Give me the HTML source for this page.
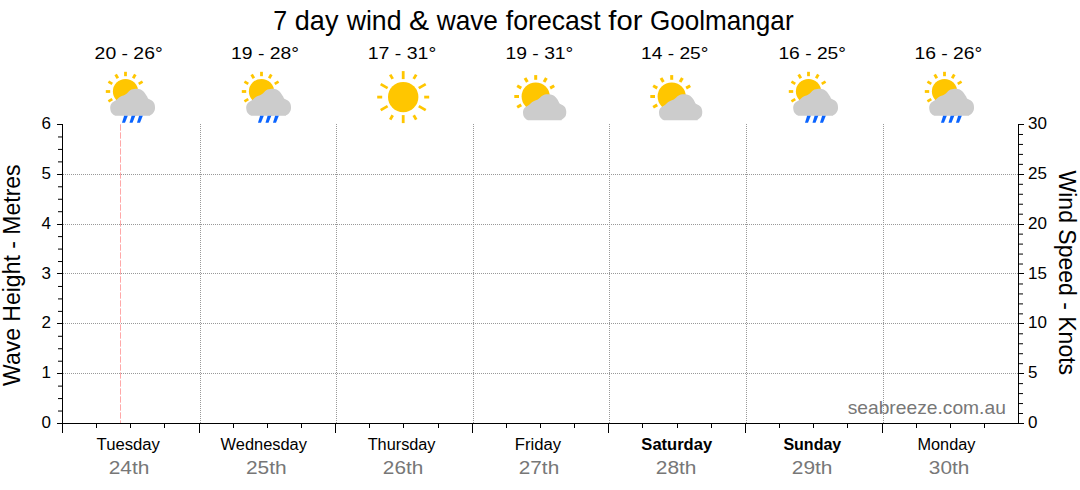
<!DOCTYPE html><html><head><meta charset="utf-8"><style>html,body{margin:0;padding:0;background:#fff;width:1080px;height:490px;overflow:hidden}svg{display:block}text{font-family:"Liberation Sans", sans-serif}</style></head><body>
<svg width="1080" height="490" viewBox="0 0 1080 490">
<rect width="1080" height="490" fill="#fff"/>
<line x1="63" y1="174.5" x2="1018" y2="174.5" stroke="#999" stroke-width="1" stroke-dasharray="1,1"/>
<line x1="63" y1="224.5" x2="1018" y2="224.5" stroke="#999" stroke-width="1" stroke-dasharray="1,1"/>
<line x1="63" y1="273.5" x2="1018" y2="273.5" stroke="#999" stroke-width="1" stroke-dasharray="1,1"/>
<line x1="63" y1="323.5" x2="1018" y2="323.5" stroke="#999" stroke-width="1" stroke-dasharray="1,1"/>
<line x1="63" y1="373.5" x2="1018" y2="373.5" stroke="#999" stroke-width="1" stroke-dasharray="1,1"/>
<line x1="200.5" y1="124" x2="200.5" y2="423" stroke="#999" stroke-width="1" stroke-dasharray="1,1"/>
<line x1="336.5" y1="124" x2="336.5" y2="423" stroke="#999" stroke-width="1" stroke-dasharray="1,1"/>
<line x1="473.5" y1="124" x2="473.5" y2="423" stroke="#999" stroke-width="1" stroke-dasharray="1,1"/>
<line x1="609.5" y1="124" x2="609.5" y2="423" stroke="#999" stroke-width="1" stroke-dasharray="1,1"/>
<line x1="746.5" y1="124" x2="746.5" y2="423" stroke="#999" stroke-width="1" stroke-dasharray="1,1"/>
<line x1="883.5" y1="124" x2="883.5" y2="423" stroke="#999" stroke-width="1" stroke-dasharray="1,1"/>
<line x1="120.5" y1="124.3" x2="120.5" y2="423" stroke="#ffa8a8" stroke-width="1" stroke-dasharray="6.4,1.6"/>
<g shape-rendering="crispEdges" stroke="#000" stroke-width="1">
<line x1="62.5" y1="124" x2="62.5" y2="433"/>
<line x1="1018.5" y1="124" x2="1018.5" y2="424"/>
<line x1="57" y1="423.5" x2="1024" y2="423.5"/>
<line x1="57" y1="423.5" x2="62" y2="423.5"/>
<line x1="57" y1="373.5" x2="62" y2="373.5"/>
<line x1="57" y1="323.5" x2="62" y2="323.5"/>
<line x1="57" y1="273.5" x2="62" y2="273.5"/>
<line x1="57" y1="224.5" x2="62" y2="224.5"/>
<line x1="57" y1="174.5" x2="62" y2="174.5"/>
<line x1="57" y1="124.5" x2="62" y2="124.5"/>
</g>
<g stroke="#000" stroke-width="1">
<line x1="58" y1="411.04" x2="62" y2="411.04"/>
<line x1="58" y1="398.58" x2="62" y2="398.58"/>
<line x1="58" y1="386.12" x2="62" y2="386.12"/>
<line x1="58" y1="361.21" x2="62" y2="361.21"/>
<line x1="58" y1="348.75" x2="62" y2="348.75"/>
<line x1="58" y1="336.29" x2="62" y2="336.29"/>
<line x1="58" y1="311.38" x2="62" y2="311.38"/>
<line x1="58" y1="298.92" x2="62" y2="298.92"/>
<line x1="58" y1="286.46" x2="62" y2="286.46"/>
<line x1="58" y1="261.54" x2="62" y2="261.54"/>
<line x1="58" y1="249.08" x2="62" y2="249.08"/>
<line x1="58" y1="236.62" x2="62" y2="236.62"/>
<line x1="58" y1="211.71" x2="62" y2="211.71"/>
<line x1="58" y1="199.25" x2="62" y2="199.25"/>
<line x1="58" y1="186.79" x2="62" y2="186.79"/>
<line x1="58" y1="161.88" x2="62" y2="161.88"/>
<line x1="58" y1="149.42" x2="62" y2="149.42"/>
<line x1="58" y1="136.96" x2="62" y2="136.96"/>
</g>
<g shape-rendering="crispEdges" stroke="#000" stroke-width="1">
<line x1="1019" y1="423.5" x2="1024" y2="423.5"/>
<line x1="1019" y1="373.5" x2="1024" y2="373.5"/>
<line x1="1019" y1="323.5" x2="1024" y2="323.5"/>
<line x1="1019" y1="273.5" x2="1024" y2="273.5"/>
<line x1="1019" y1="224.5" x2="1024" y2="224.5"/>
<line x1="1019" y1="174.5" x2="1024" y2="174.5"/>
<line x1="1019" y1="124.5" x2="1024" y2="124.5"/>
</g><g stroke="#000" stroke-width="1">
<line x1="1019" y1="413.53" x2="1023" y2="413.53"/>
<line x1="1019" y1="403.57" x2="1023" y2="403.57"/>
<line x1="1019" y1="393.60" x2="1023" y2="393.60"/>
<line x1="1019" y1="383.63" x2="1023" y2="383.63"/>
<line x1="1019" y1="363.70" x2="1023" y2="363.70"/>
<line x1="1019" y1="353.73" x2="1023" y2="353.73"/>
<line x1="1019" y1="343.77" x2="1023" y2="343.77"/>
<line x1="1019" y1="333.80" x2="1023" y2="333.80"/>
<line x1="1019" y1="313.87" x2="1023" y2="313.87"/>
<line x1="1019" y1="303.90" x2="1023" y2="303.90"/>
<line x1="1019" y1="293.93" x2="1023" y2="293.93"/>
<line x1="1019" y1="283.97" x2="1023" y2="283.97"/>
<line x1="1019" y1="264.03" x2="1023" y2="264.03"/>
<line x1="1019" y1="254.07" x2="1023" y2="254.07"/>
<line x1="1019" y1="244.10" x2="1023" y2="244.10"/>
<line x1="1019" y1="234.13" x2="1023" y2="234.13"/>
<line x1="1019" y1="214.20" x2="1023" y2="214.20"/>
<line x1="1019" y1="204.23" x2="1023" y2="204.23"/>
<line x1="1019" y1="194.27" x2="1023" y2="194.27"/>
<line x1="1019" y1="184.30" x2="1023" y2="184.30"/>
<line x1="1019" y1="164.37" x2="1023" y2="164.37"/>
<line x1="1019" y1="154.40" x2="1023" y2="154.40"/>
<line x1="1019" y1="144.43" x2="1023" y2="144.43"/>
<line x1="1019" y1="134.47" x2="1023" y2="134.47"/>
<line x1="62.5" y1="423" x2="62.5" y2="433"/>
<line x1="199.5" y1="423" x2="199.5" y2="433"/>
<line x1="335.5" y1="423" x2="335.5" y2="433"/>
<line x1="472.5" y1="423" x2="472.5" y2="433"/>
<line x1="608.5" y1="423" x2="608.5" y2="433"/>
<line x1="745.5" y1="423" x2="745.5" y2="433"/>
<line x1="882.5" y1="423" x2="882.5" y2="433"/>
<line x1="96.5" y1="423" x2="96.5" y2="428"/>
<line x1="130.5" y1="423" x2="130.5" y2="428"/>
<line x1="164.5" y1="423" x2="164.5" y2="428"/>
<line x1="233.5" y1="423" x2="233.5" y2="428"/>
<line x1="267.5" y1="423" x2="267.5" y2="428"/>
<line x1="301.5" y1="423" x2="301.5" y2="428"/>
<line x1="369.5" y1="423" x2="369.5" y2="428"/>
<line x1="403.5" y1="423" x2="403.5" y2="428"/>
<line x1="438.5" y1="423" x2="438.5" y2="428"/>
<line x1="506.5" y1="423" x2="506.5" y2="428"/>
<line x1="540.5" y1="423" x2="540.5" y2="428"/>
<line x1="574.5" y1="423" x2="574.5" y2="428"/>
<line x1="642.5" y1="423" x2="642.5" y2="428"/>
<line x1="677.5" y1="423" x2="677.5" y2="428"/>
<line x1="711.5" y1="423" x2="711.5" y2="428"/>
<line x1="779.5" y1="423" x2="779.5" y2="428"/>
<line x1="813.5" y1="423" x2="813.5" y2="428"/>
<line x1="847.5" y1="423" x2="847.5" y2="428"/>
<line x1="916.5" y1="423" x2="916.5" y2="428"/>
<line x1="950.5" y1="423" x2="950.5" y2="428"/>
<line x1="984.5" y1="423" x2="984.5" y2="428"/>
</g>
<text x="51" y="428.10" font-size="17" text-anchor="end" fill="#000">0</text>
<text x="51" y="378.27" font-size="17" text-anchor="end" fill="#000">1</text>
<text x="51" y="328.43" font-size="17" text-anchor="end" fill="#000">2</text>
<text x="51" y="278.60" font-size="17" text-anchor="end" fill="#000">3</text>
<text x="51" y="228.77" font-size="17" text-anchor="end" fill="#000">4</text>
<text x="51" y="178.93" font-size="17" text-anchor="end" fill="#000">5</text>
<text x="51" y="129.10" font-size="17" text-anchor="end" fill="#000">6</text>
<text x="1028" y="428.10" font-size="17" fill="#000">0</text>
<text x="1028" y="378.27" font-size="17" fill="#000">5</text>
<text x="1028" y="328.43" font-size="17" fill="#000">10</text>
<text x="1028" y="278.60" font-size="17" fill="#000">15</text>
<text x="1028" y="228.77" font-size="17" fill="#000">20</text>
<text x="1028" y="178.93" font-size="17" fill="#000">25</text>
<text x="1028" y="129.10" font-size="17" fill="#000">30</text>
<text transform="translate(20.2,275.2) rotate(-90)" font-size="23" text-anchor="middle" fill="#000">Wave Height - Metres</text>
<text transform="translate(1059,272.8) rotate(90)" font-size="23" text-anchor="middle" fill="#000">Wind Speed - Knots</text>
<text x="273.31" y="30" font-size="28" fill="#000" textLength="13.90" lengthAdjust="spacingAndGlyphs">7</text>
<text x="294.83" y="30" font-size="28" fill="#000" textLength="43.62" lengthAdjust="spacingAndGlyphs">day</text>
<text x="346.70" y="30" font-size="28" fill="#000" textLength="54.82" lengthAdjust="spacingAndGlyphs">wind</text>
<text x="408.92" y="30" font-size="28" fill="#000" textLength="20.12" lengthAdjust="spacingAndGlyphs">&amp;</text>
<text x="436.70" y="30" font-size="28" fill="#000" textLength="61.29" lengthAdjust="spacingAndGlyphs">wave</text>
<text x="505.80" y="30" font-size="28" fill="#000" textLength="94.78" lengthAdjust="spacingAndGlyphs">forecast</text>
<text x="608.30" y="30" font-size="28" fill="#000" textLength="34.12" lengthAdjust="spacingAndGlyphs">for</text>
<text x="649.97" y="30" font-size="28" fill="#000" textLength="143.62" lengthAdjust="spacingAndGlyphs">Goolmangar</text>
<text x="94.63" y="59" font-size="16.5" fill="#000" textLength="68.01" lengthAdjust="spacingAndGlyphs">20 - 26°</text>
<text x="231.03" y="59" font-size="16.5" fill="#000" textLength="67.91" lengthAdjust="spacingAndGlyphs">19 - 28°</text>
<text x="367.72" y="59" font-size="16.5" fill="#000" textLength="68.53" lengthAdjust="spacingAndGlyphs">17 - 31°</text>
<text x="505.53" y="59" font-size="16.5" fill="#000" textLength="67.80" lengthAdjust="spacingAndGlyphs">19 - 31°</text>
<text x="641.04" y="59" font-size="16.5" fill="#000" textLength="67.39" lengthAdjust="spacingAndGlyphs">14 - 25°</text>
<text x="778.43" y="59" font-size="16.5" fill="#000" textLength="67.60" lengthAdjust="spacingAndGlyphs">16 - 25°</text>
<text x="914.43" y="59" font-size="16.5" fill="#000" textLength="67.80" lengthAdjust="spacingAndGlyphs">16 - 26°</text>
<text x="847.66" y="414" font-size="18.5" fill="#777" textLength="158.19" lengthAdjust="spacingAndGlyphs">seabreeze.com.au</text>
<text x="96.60" y="450" font-size="16" fill="#000" textLength="63.37" lengthAdjust="spacingAndGlyphs">Tuesday</text>
<text x="220.60" y="450" font-size="16" fill="#000" textLength="86.31" lengthAdjust="spacingAndGlyphs">Wednesday</text>
<text x="367.70" y="450" font-size="16" fill="#000" textLength="67.80" lengthAdjust="spacingAndGlyphs">Thursday</text>
<text x="514.76" y="450" font-size="16" fill="#000" textLength="46.31" lengthAdjust="spacingAndGlyphs">Friday</text>
<text x="641.37" y="450" font-size="16" font-weight="bold" fill="#000" textLength="70.72" lengthAdjust="spacingAndGlyphs">Saturday</text>
<text x="783.40" y="450" font-size="16" font-weight="bold" fill="#000" textLength="57.90" lengthAdjust="spacingAndGlyphs">Sunday</text>
<text x="917.48" y="450" font-size="16" fill="#000" textLength="57.94" lengthAdjust="spacingAndGlyphs">Monday</text>
<text x="108.74" y="474" font-size="18" fill="#777" textLength="40.68" lengthAdjust="spacingAndGlyphs">24th</text>
<text x="245.94" y="474" font-size="18" fill="#777" textLength="40.68" lengthAdjust="spacingAndGlyphs">25th</text>
<text x="382.85" y="474" font-size="18" fill="#777" textLength="40.46" lengthAdjust="spacingAndGlyphs">26th</text>
<text x="518.75" y="474" font-size="18" fill="#777" textLength="40.46" lengthAdjust="spacingAndGlyphs">27th</text>
<text x="655.84" y="474" font-size="18" fill="#777" textLength="40.68" lengthAdjust="spacingAndGlyphs">28th</text>
<text x="791.84" y="474" font-size="18" fill="#777" textLength="40.68" lengthAdjust="spacingAndGlyphs">29th</text>
<text x="928.85" y="474" font-size="18" fill="#777" textLength="40.46" lengthAdjust="spacingAndGlyphs">30th</text>
<circle cx="125.5" cy="91.5" r="12.6" fill="#ffc600"/><rect x="-1.4" y="-19.7" width="2.8" height="4.399999999999999" transform="translate(125.5,91.5) rotate(0)" fill="#ffc600"/><rect x="-1.4" y="-19.7" width="2.8" height="4.399999999999999" transform="translate(125.5,91.5) rotate(30)" fill="#ffc600"/><rect x="-1.4" y="-19.7" width="2.8" height="4.399999999999999" transform="translate(125.5,91.5) rotate(60)" fill="#ffc600"/><rect x="-1.4" y="-19.7" width="2.8" height="4.399999999999999" transform="translate(125.5,91.5) rotate(240)" fill="#ffc600"/><rect x="-1.4" y="-19.7" width="2.8" height="4.399999999999999" transform="translate(125.5,91.5) rotate(270)" fill="#ffc600"/><rect x="-1.4" y="-19.7" width="2.8" height="4.399999999999999" transform="translate(125.5,91.5) rotate(300)" fill="#ffc600"/><rect x="-1.4" y="-19.7" width="2.8" height="4.399999999999999" transform="translate(125.5,91.5) rotate(330)" fill="#ffc600"/><path transform="translate(0,0) scale(1.0)" d="M110.2,108.0 C110.13,106.95 110.28,106.17 110.5,105.4 C110.72,104.63 110.93,104.03 111.5,103.4 C112.07,102.77 113.10,102.15 113.9,101.6 C114.70,101.05 115.48,100.75 116.3,100.1 C117.12,99.45 117.90,98.38 118.8,97.7 C119.70,97.02 120.67,96.50 121.7,96.0 C122.73,95.50 124.10,95.17 125.0,94.7 C125.90,94.23 126.43,93.77 127.1,93.2 C127.77,92.63 128.27,91.90 129,91.3 C129.73,90.70 130.60,90.00 131.5,89.6 C132.40,89.20 133.17,88.98 134.4,88.9 C135.63,88.82 137.58,88.82 138.9,89.1 C140.22,89.38 141.27,89.88 142.3,90.6 C143.33,91.32 144.30,92.40 145.1,93.4 C145.90,94.40 146.60,95.77 147.1,96.6 C147.60,97.43 147.45,97.83 148.1,98.4 C148.75,98.97 150.18,99.47 151,100 C151.82,100.53 152.45,101.00 153,101.6 C153.55,102.20 153.97,102.72 154.3,103.6 C154.63,104.48 154.95,105.73 155,106.9 C155.05,108.07 154.97,109.52 154.6,110.6 C154.23,111.68 153.53,112.62 152.8,113.4 C152.07,114.18 151.17,114.89 150.2,115.3 C149.23,115.71 152.37,115.76 147,115.85 C141.63,115.94 123.35,115.89 118,115.85 C112.65,115.81 115.80,115.91 114.9,115.6 C114.00,115.29 113.27,114.65 112.6,114 C111.93,113.35 111.30,112.70 110.9,111.7 C110.50,110.70 110.27,109.05 110.2,108.0Z" fill="#cccccc"/><polygon points="122.0,122.7 125.0,122.7 127.8,115.7 124.1,115.7" fill="#0a64ff"/><polygon points="129.5,122.7 132.5,122.7 135.3,115.7 131.6,115.7" fill="#0a64ff"/><polygon points="137.0,122.7 140.0,122.7 142.8,115.7 139.1,115.7" fill="#0a64ff"/>
<circle cx="261.5" cy="91.5" r="12.6" fill="#ffc600"/><rect x="-1.4" y="-19.7" width="2.8" height="4.399999999999999" transform="translate(261.5,91.5) rotate(0)" fill="#ffc600"/><rect x="-1.4" y="-19.7" width="2.8" height="4.399999999999999" transform="translate(261.5,91.5) rotate(30)" fill="#ffc600"/><rect x="-1.4" y="-19.7" width="2.8" height="4.399999999999999" transform="translate(261.5,91.5) rotate(60)" fill="#ffc600"/><rect x="-1.4" y="-19.7" width="2.8" height="4.399999999999999" transform="translate(261.5,91.5) rotate(240)" fill="#ffc600"/><rect x="-1.4" y="-19.7" width="2.8" height="4.399999999999999" transform="translate(261.5,91.5) rotate(270)" fill="#ffc600"/><rect x="-1.4" y="-19.7" width="2.8" height="4.399999999999999" transform="translate(261.5,91.5) rotate(300)" fill="#ffc600"/><rect x="-1.4" y="-19.7" width="2.8" height="4.399999999999999" transform="translate(261.5,91.5) rotate(330)" fill="#ffc600"/><path transform="translate(136,0) scale(1.0)" d="M110.2,108.0 C110.13,106.95 110.28,106.17 110.5,105.4 C110.72,104.63 110.93,104.03 111.5,103.4 C112.07,102.77 113.10,102.15 113.9,101.6 C114.70,101.05 115.48,100.75 116.3,100.1 C117.12,99.45 117.90,98.38 118.8,97.7 C119.70,97.02 120.67,96.50 121.7,96.0 C122.73,95.50 124.10,95.17 125.0,94.7 C125.90,94.23 126.43,93.77 127.1,93.2 C127.77,92.63 128.27,91.90 129,91.3 C129.73,90.70 130.60,90.00 131.5,89.6 C132.40,89.20 133.17,88.98 134.4,88.9 C135.63,88.82 137.58,88.82 138.9,89.1 C140.22,89.38 141.27,89.88 142.3,90.6 C143.33,91.32 144.30,92.40 145.1,93.4 C145.90,94.40 146.60,95.77 147.1,96.6 C147.60,97.43 147.45,97.83 148.1,98.4 C148.75,98.97 150.18,99.47 151,100 C151.82,100.53 152.45,101.00 153,101.6 C153.55,102.20 153.97,102.72 154.3,103.6 C154.63,104.48 154.95,105.73 155,106.9 C155.05,108.07 154.97,109.52 154.6,110.6 C154.23,111.68 153.53,112.62 152.8,113.4 C152.07,114.18 151.17,114.89 150.2,115.3 C149.23,115.71 152.37,115.76 147,115.85 C141.63,115.94 123.35,115.89 118,115.85 C112.65,115.81 115.80,115.91 114.9,115.6 C114.00,115.29 113.27,114.65 112.6,114 C111.93,113.35 111.30,112.70 110.9,111.7 C110.50,110.70 110.27,109.05 110.2,108.0Z" fill="#cccccc"/><polygon points="258.0,122.7 261.0,122.7 263.8,115.7 260.1,115.7" fill="#0a64ff"/><polygon points="265.5,122.7 268.5,122.7 271.3,115.7 267.6,115.7" fill="#0a64ff"/><polygon points="273.0,122.7 276.0,122.7 278.8,115.7 275.1,115.7" fill="#0a64ff"/>
<circle cx="403.2" cy="97.1" r="15.2" fill="#ffc600"/><rect x="-1.4" y="-26" width="2.8" height="8" transform="translate(403.2,97.1) rotate(0)" fill="#ffc600"/><rect x="-1.4" y="-26" width="2.8" height="5" transform="translate(403.2,97.1) rotate(30)" fill="#ffc600"/><rect x="-1.4" y="-26" width="2.8" height="8" transform="translate(403.2,97.1) rotate(60)" fill="#ffc600"/><rect x="-1.4" y="-26" width="2.8" height="5" transform="translate(403.2,97.1) rotate(90)" fill="#ffc600"/><rect x="-1.4" y="-26" width="2.8" height="8" transform="translate(403.2,97.1) rotate(120)" fill="#ffc600"/><rect x="-1.4" y="-26" width="2.8" height="5" transform="translate(403.2,97.1) rotate(150)" fill="#ffc600"/><rect x="-1.4" y="-26" width="2.8" height="8" transform="translate(403.2,97.1) rotate(180)" fill="#ffc600"/><rect x="-1.4" y="-26" width="2.8" height="5" transform="translate(403.2,97.1) rotate(210)" fill="#ffc600"/><rect x="-1.4" y="-26" width="2.8" height="8" transform="translate(403.2,97.1) rotate(240)" fill="#ffc600"/><rect x="-1.4" y="-26" width="2.8" height="5" transform="translate(403.2,97.1) rotate(270)" fill="#ffc600"/><rect x="-1.4" y="-26" width="2.8" height="8" transform="translate(403.2,97.1) rotate(300)" fill="#ffc600"/><rect x="-1.4" y="-26" width="2.8" height="5" transform="translate(403.2,97.1) rotate(330)" fill="#ffc600"/>
<circle cx="535.7" cy="96.5" r="14.1" fill="#ffc600"/><rect x="-1.5" y="-21.4" width="3" height="4.699999999999999" transform="translate(535.7,96.5) rotate(0)" fill="#ffc600"/><rect x="-1.5" y="-21.4" width="3" height="4.699999999999999" transform="translate(535.7,96.5) rotate(30)" fill="#ffc600"/><rect x="-1.5" y="-21.4" width="3" height="4.699999999999999" transform="translate(535.7,96.5) rotate(60)" fill="#ffc600"/><rect x="-1.5" y="-21.4" width="3" height="4.699999999999999" transform="translate(535.7,96.5) rotate(240)" fill="#ffc600"/><rect x="-1.5" y="-21.4" width="3" height="4.699999999999999" transform="translate(535.7,96.5) rotate(270)" fill="#ffc600"/><rect x="-1.5" y="-21.4" width="3" height="4.699999999999999" transform="translate(535.7,96.5) rotate(300)" fill="#ffc600"/><rect x="-1.5" y="-21.4" width="3" height="4.699999999999999" transform="translate(535.7,96.5) rotate(330)" fill="#ffc600"/><path transform="translate(416.55,8.33) scale(0.966)" d="M110.2,108.0 C110.13,106.95 110.28,106.17 110.5,105.4 C110.72,104.63 110.93,104.03 111.5,103.4 C112.07,102.77 113.10,102.15 113.9,101.6 C114.70,101.05 115.48,100.75 116.3,100.1 C117.12,99.45 117.90,98.38 118.8,97.7 C119.70,97.02 120.67,96.50 121.7,96.0 C122.73,95.50 124.10,95.17 125.0,94.7 C125.90,94.23 126.43,93.77 127.1,93.2 C127.77,92.63 128.27,91.90 129,91.3 C129.73,90.70 130.60,90.00 131.5,89.6 C132.40,89.20 133.17,88.98 134.4,88.9 C135.63,88.82 137.58,88.82 138.9,89.1 C140.22,89.38 141.27,89.88 142.3,90.6 C143.33,91.32 144.30,92.40 145.1,93.4 C145.90,94.40 146.60,95.77 147.1,96.6 C147.60,97.43 147.45,97.83 148.1,98.4 C148.75,98.97 150.18,99.47 151,100 C151.82,100.53 152.45,101.00 153,101.6 C153.55,102.20 153.97,102.72 154.3,103.6 C154.63,104.48 154.95,105.73 155,106.9 C155.05,108.07 154.97,109.52 154.6,110.6 C154.23,111.68 153.53,112.62 152.8,113.4 C152.07,114.18 151.17,114.89 150.2,115.3 C149.23,115.71 152.37,115.76 147,115.85 C141.63,115.94 123.35,115.89 118,115.85 C112.65,115.81 115.80,115.91 114.9,115.6 C114.00,115.29 113.27,114.65 112.6,114 C111.93,113.35 111.30,112.70 110.9,111.7 C110.50,110.70 110.27,109.05 110.2,108.0Z" fill="#cccccc"/>
<circle cx="671.7" cy="96.5" r="14.1" fill="#ffc600"/><rect x="-1.5" y="-21.4" width="3" height="4.699999999999999" transform="translate(671.7,96.5) rotate(0)" fill="#ffc600"/><rect x="-1.5" y="-21.4" width="3" height="4.699999999999999" transform="translate(671.7,96.5) rotate(30)" fill="#ffc600"/><rect x="-1.5" y="-21.4" width="3" height="4.699999999999999" transform="translate(671.7,96.5) rotate(60)" fill="#ffc600"/><rect x="-1.5" y="-21.4" width="3" height="4.699999999999999" transform="translate(671.7,96.5) rotate(240)" fill="#ffc600"/><rect x="-1.5" y="-21.4" width="3" height="4.699999999999999" transform="translate(671.7,96.5) rotate(270)" fill="#ffc600"/><rect x="-1.5" y="-21.4" width="3" height="4.699999999999999" transform="translate(671.7,96.5) rotate(300)" fill="#ffc600"/><rect x="-1.5" y="-21.4" width="3" height="4.699999999999999" transform="translate(671.7,96.5) rotate(330)" fill="#ffc600"/><path transform="translate(552.55,8.33) scale(0.966)" d="M110.2,108.0 C110.13,106.95 110.28,106.17 110.5,105.4 C110.72,104.63 110.93,104.03 111.5,103.4 C112.07,102.77 113.10,102.15 113.9,101.6 C114.70,101.05 115.48,100.75 116.3,100.1 C117.12,99.45 117.90,98.38 118.8,97.7 C119.70,97.02 120.67,96.50 121.7,96.0 C122.73,95.50 124.10,95.17 125.0,94.7 C125.90,94.23 126.43,93.77 127.1,93.2 C127.77,92.63 128.27,91.90 129,91.3 C129.73,90.70 130.60,90.00 131.5,89.6 C132.40,89.20 133.17,88.98 134.4,88.9 C135.63,88.82 137.58,88.82 138.9,89.1 C140.22,89.38 141.27,89.88 142.3,90.6 C143.33,91.32 144.30,92.40 145.1,93.4 C145.90,94.40 146.60,95.77 147.1,96.6 C147.60,97.43 147.45,97.83 148.1,98.4 C148.75,98.97 150.18,99.47 151,100 C151.82,100.53 152.45,101.00 153,101.6 C153.55,102.20 153.97,102.72 154.3,103.6 C154.63,104.48 154.95,105.73 155,106.9 C155.05,108.07 154.97,109.52 154.6,110.6 C154.23,111.68 153.53,112.62 152.8,113.4 C152.07,114.18 151.17,114.89 150.2,115.3 C149.23,115.71 152.37,115.76 147,115.85 C141.63,115.94 123.35,115.89 118,115.85 C112.65,115.81 115.80,115.91 114.9,115.6 C114.00,115.29 113.27,114.65 112.6,114 C111.93,113.35 111.30,112.70 110.9,111.7 C110.50,110.70 110.27,109.05 110.2,108.0Z" fill="#cccccc"/>
<circle cx="808.5" cy="91.5" r="12.6" fill="#ffc600"/><rect x="-1.4" y="-19.7" width="2.8" height="4.399999999999999" transform="translate(808.5,91.5) rotate(0)" fill="#ffc600"/><rect x="-1.4" y="-19.7" width="2.8" height="4.399999999999999" transform="translate(808.5,91.5) rotate(30)" fill="#ffc600"/><rect x="-1.4" y="-19.7" width="2.8" height="4.399999999999999" transform="translate(808.5,91.5) rotate(60)" fill="#ffc600"/><rect x="-1.4" y="-19.7" width="2.8" height="4.399999999999999" transform="translate(808.5,91.5) rotate(240)" fill="#ffc600"/><rect x="-1.4" y="-19.7" width="2.8" height="4.399999999999999" transform="translate(808.5,91.5) rotate(270)" fill="#ffc600"/><rect x="-1.4" y="-19.7" width="2.8" height="4.399999999999999" transform="translate(808.5,91.5) rotate(300)" fill="#ffc600"/><rect x="-1.4" y="-19.7" width="2.8" height="4.399999999999999" transform="translate(808.5,91.5) rotate(330)" fill="#ffc600"/><path transform="translate(683,0) scale(1.0)" d="M110.2,108.0 C110.13,106.95 110.28,106.17 110.5,105.4 C110.72,104.63 110.93,104.03 111.5,103.4 C112.07,102.77 113.10,102.15 113.9,101.6 C114.70,101.05 115.48,100.75 116.3,100.1 C117.12,99.45 117.90,98.38 118.8,97.7 C119.70,97.02 120.67,96.50 121.7,96.0 C122.73,95.50 124.10,95.17 125.0,94.7 C125.90,94.23 126.43,93.77 127.1,93.2 C127.77,92.63 128.27,91.90 129,91.3 C129.73,90.70 130.60,90.00 131.5,89.6 C132.40,89.20 133.17,88.98 134.4,88.9 C135.63,88.82 137.58,88.82 138.9,89.1 C140.22,89.38 141.27,89.88 142.3,90.6 C143.33,91.32 144.30,92.40 145.1,93.4 C145.90,94.40 146.60,95.77 147.1,96.6 C147.60,97.43 147.45,97.83 148.1,98.4 C148.75,98.97 150.18,99.47 151,100 C151.82,100.53 152.45,101.00 153,101.6 C153.55,102.20 153.97,102.72 154.3,103.6 C154.63,104.48 154.95,105.73 155,106.9 C155.05,108.07 154.97,109.52 154.6,110.6 C154.23,111.68 153.53,112.62 152.8,113.4 C152.07,114.18 151.17,114.89 150.2,115.3 C149.23,115.71 152.37,115.76 147,115.85 C141.63,115.94 123.35,115.89 118,115.85 C112.65,115.81 115.80,115.91 114.9,115.6 C114.00,115.29 113.27,114.65 112.6,114 C111.93,113.35 111.30,112.70 110.9,111.7 C110.50,110.70 110.27,109.05 110.2,108.0Z" fill="#cccccc"/><polygon points="805.0,122.7 808.0,122.7 810.8,115.7 807.1,115.7" fill="#0a64ff"/><polygon points="812.5,122.7 815.5,122.7 818.3,115.7 814.6,115.7" fill="#0a64ff"/><polygon points="820.0,122.7 823.0,122.7 825.8,115.7 822.1,115.7" fill="#0a64ff"/>
<circle cx="944.5" cy="91.5" r="12.6" fill="#ffc600"/><rect x="-1.4" y="-19.7" width="2.8" height="4.399999999999999" transform="translate(944.5,91.5) rotate(0)" fill="#ffc600"/><rect x="-1.4" y="-19.7" width="2.8" height="4.399999999999999" transform="translate(944.5,91.5) rotate(30)" fill="#ffc600"/><rect x="-1.4" y="-19.7" width="2.8" height="4.399999999999999" transform="translate(944.5,91.5) rotate(60)" fill="#ffc600"/><rect x="-1.4" y="-19.7" width="2.8" height="4.399999999999999" transform="translate(944.5,91.5) rotate(240)" fill="#ffc600"/><rect x="-1.4" y="-19.7" width="2.8" height="4.399999999999999" transform="translate(944.5,91.5) rotate(270)" fill="#ffc600"/><rect x="-1.4" y="-19.7" width="2.8" height="4.399999999999999" transform="translate(944.5,91.5) rotate(300)" fill="#ffc600"/><rect x="-1.4" y="-19.7" width="2.8" height="4.399999999999999" transform="translate(944.5,91.5) rotate(330)" fill="#ffc600"/><path transform="translate(819,0) scale(1.0)" d="M110.2,108.0 C110.13,106.95 110.28,106.17 110.5,105.4 C110.72,104.63 110.93,104.03 111.5,103.4 C112.07,102.77 113.10,102.15 113.9,101.6 C114.70,101.05 115.48,100.75 116.3,100.1 C117.12,99.45 117.90,98.38 118.8,97.7 C119.70,97.02 120.67,96.50 121.7,96.0 C122.73,95.50 124.10,95.17 125.0,94.7 C125.90,94.23 126.43,93.77 127.1,93.2 C127.77,92.63 128.27,91.90 129,91.3 C129.73,90.70 130.60,90.00 131.5,89.6 C132.40,89.20 133.17,88.98 134.4,88.9 C135.63,88.82 137.58,88.82 138.9,89.1 C140.22,89.38 141.27,89.88 142.3,90.6 C143.33,91.32 144.30,92.40 145.1,93.4 C145.90,94.40 146.60,95.77 147.1,96.6 C147.60,97.43 147.45,97.83 148.1,98.4 C148.75,98.97 150.18,99.47 151,100 C151.82,100.53 152.45,101.00 153,101.6 C153.55,102.20 153.97,102.72 154.3,103.6 C154.63,104.48 154.95,105.73 155,106.9 C155.05,108.07 154.97,109.52 154.6,110.6 C154.23,111.68 153.53,112.62 152.8,113.4 C152.07,114.18 151.17,114.89 150.2,115.3 C149.23,115.71 152.37,115.76 147,115.85 C141.63,115.94 123.35,115.89 118,115.85 C112.65,115.81 115.80,115.91 114.9,115.6 C114.00,115.29 113.27,114.65 112.6,114 C111.93,113.35 111.30,112.70 110.9,111.7 C110.50,110.70 110.27,109.05 110.2,108.0Z" fill="#cccccc"/><polygon points="941.0,122.7 944.0,122.7 946.8,115.7 943.1,115.7" fill="#0a64ff"/><polygon points="948.5,122.7 951.5,122.7 954.3,115.7 950.6,115.7" fill="#0a64ff"/><polygon points="956.0,122.7 959.0,122.7 961.8,115.7 958.1,115.7" fill="#0a64ff"/>
</svg></body></html>
